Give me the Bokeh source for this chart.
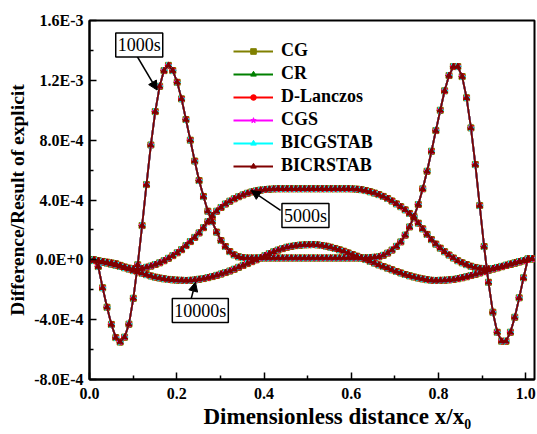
import numpy as np
from bokeh.plotting import figure
from bokeh.models import (ColumnDataSource, Legend, LegendItem, Label, Arrow, NormalHead,
                          FixedTicker, CustomJSTickFormatter, Range1d, Title)
from bokeh.embed import file_html
from bokeh.resources import INLINE

# ---------------- data (difference / result of explicit, in units of 1E-3) ----------------
x_pos = [round(i * 1.015 / 101, 4) for i in range(102)]

t1000 = [0.0, 0.0, -0.045, -0.187, -0.317, -0.432, -0.52, -0.55, -0.517, -0.43,
         -0.257, -0.033, 0.229, 0.503, 0.768, 0.991, 1.16, 1.265, 1.30, 1.265,
         1.187, 1.076, 0.938, 0.80, 0.66, 0.53, 0.423, 0.325, 0.256, 0.185,
         0.129, 0.089, 0.055, 0.033, 0.02, 0.014, 0.012, 0.012, 0.012, 0.012,
         0.012, 0.012, 0.012, 0.012, 0.012, 0.012, 0.012, 0.012, 0.012, 0.012,
         0.012, 0.012, 0.012, 0.012, 0.012, 0.012, 0.012, 0.012, 0.012, 0.012,
         0.012, 0.012, 0.012, 0.013, 0.015, 0.017, 0.02, 0.03, 0.045, 0.065,
         0.09, 0.12, 0.165, 0.22, 0.29, 0.37, 0.475, 0.592, 0.726, 0.864,
         1.0, 1.13, 1.232, 1.292, 1.292, 1.225, 1.083, 0.882, 0.637, 0.363,
         0.089, -0.15, -0.35, -0.484, -0.544, -0.544, -0.484, -0.384, -0.254, -0.12,
         0.007, 0.007]

t5000 = [0.0, -0.002, -0.006, -0.011, -0.016, -0.021, -0.027, -0.037, -0.048, -0.056,
         -0.06, -0.061, -0.058, -0.05, -0.042, -0.031, -0.02, -0.006, 0.01, 0.028,
         0.047, 0.068, 0.095, 0.122, 0.15, 0.18, 0.215, 0.255, 0.295, 0.325,
         0.35, 0.373, 0.392, 0.408, 0.422, 0.434, 0.445, 0.454, 0.461, 0.466,
         0.47, 0.472, 0.474, 0.475, 0.475, 0.475, 0.475, 0.475, 0.475, 0.475,
         0.475, 0.475, 0.475, 0.475, 0.475, 0.475, 0.475, 0.475, 0.475, 0.475,
         0.474, 0.472, 0.469, 0.463, 0.455, 0.446, 0.436, 0.424, 0.41, 0.393,
         0.374, 0.355, 0.334, 0.31, 0.28, 0.245, 0.207, 0.17, 0.135, 0.105,
         0.078, 0.054, 0.032, 0.012, -0.006, -0.02, -0.032, -0.043, -0.051, -0.057,
         -0.06, -0.061, -0.058, -0.051, -0.044, -0.036, -0.029, -0.021, -0.013, -0.006,
         0.002, 0.007]

t10000 = [0.0, -0.005, -0.01, -0.016, -0.022, -0.029, -0.036, -0.044, -0.053, -0.062,
          -0.072, -0.08, -0.09, -0.099, -0.108, -0.116, -0.122, -0.127, -0.131, -0.134,
          -0.136, -0.137, -0.138, -0.137, -0.134, -0.13, -0.125, -0.119, -0.112, -0.104,
          -0.095, -0.085, -0.075, -0.063, -0.05, -0.038, -0.025, -0.012, 0.0, 0.014,
          0.028, 0.041, 0.054, 0.065, 0.075, 0.084, 0.09, 0.095, 0.098, 0.1,
          0.101, 0.102, 0.1, 0.096, 0.091, 0.084, 0.076, 0.067, 0.057, 0.046,
          0.035, 0.024, 0.013, 0.002, -0.01, -0.022, -0.034, -0.045, -0.056, -0.067,
          -0.078, -0.088, -0.098, -0.107, -0.115, -0.122, -0.128, -0.133, -0.137, -0.138,
          -0.137, -0.136, -0.134, -0.131, -0.126, -0.12, -0.113, -0.105, -0.097, -0.088,
          -0.079, -0.07, -0.062, -0.054, -0.046, -0.038, -0.03, -0.022, -0.014, -0.006,
          0.002, 0.007]

methods = ["CG", "CR", "D-Lanczos", "CGS", "BICGSTAB", "BICRSTAB"]
colors = ["#808000", "#008000", "#ff0000", "#ff00ff", "#00ffff", "#800000"]
markers = ["square", "triangle", "circle", "star", "triangle", "triangle"]
angles = [0.0, np.pi / 2, 0.0, 0.0, -np.pi / 2, 0.0]

x_ticks = [0.0, 0.2, 0.4, 0.6, 0.8, 1.0]
x_minor = [0.1, 0.3, 0.5, 0.7, 0.9]
y_ticks = [-8e-4, -4e-4, 0.0, 4e-4, 8e-4, 1.2e-3, 1.6e-3]
y_minor = [-6e-4, -2e-4, 2e-4, 6e-4, 1.0e-3, 1.4e-3]

annotations = [("1000s", 0.114, 1.436e-3, 0.108, 1.366e-3, 0.155, 1.135e-3),
               ("5000s", 0.495, 0.296e-3, 0.438, 0.330e-3, 0.371, 0.463e-3),
               ("10000s", 0.254, -0.339e-3, 0.232, -0.272e-3, 0.243, -0.150e-3)]

x_title = "Dimensionless distance x/x\u2080"
y_title = "Difference/Result of explicit"

SERIF = "Liberation Serif"

p = figure(width=537, height=434, x_range=Range1d(0, 1.02), y_range=Range1d(-8e-4, 1.6e-3),
           output_backend="svg", toolbar_location=None,
           min_border_left=89, min_border_right=3, min_border_top=20, min_border_bottom=55)
p.background_fill_color = "white"
p.border_fill_color = "white"
p.outline_line_color = "black"
p.outline_line_width = 2
p.xgrid.visible = False
p.ygrid.visible = False

scale = 1e-3
curve_sets = [t1000, t5000, t10000]
items = []
for m, c, mk, ang in zip(methods, colors, markers, angles):
    rends = []
    for vals in curve_sets:
        src = ColumnDataSource(dict(x=x_pos, y=[v * scale for v in vals]))
        lr = p.line("x", "y", source=src, line_color=c, line_width=1.8)
        sr = p.scatter("x", "y", source=src, marker=mk, angle=ang, size=6,
                       fill_color=c, line_color=c)
        rends.extend([lr, sr])
    items.append(LegendItem(label=m, renderers=rends[:2]))

legend = Legend(items=items, location=(144, 202), padding=0, margin=0, spacing=0,
                glyph_width=40, glyph_height=14, label_height=23, label_standoff=8,
                label_text_font=SERIF, label_text_font_style="bold",
                label_text_font_size="18px", label_text_color="black",
                border_line_alpha=0, background_fill_alpha=0)
p.add_layout(legend)

yfmt = CustomJSTickFormatter(code="""
    if (Math.abs(tick) < 1e-12) { return "0.0E+0"; }
    const e = Math.floor(Math.log10(Math.abs(tick)) + 1e-9);
    const m = tick / Math.pow(10, e);
    return m.toFixed(1) + "E" + e;
""")
xfmt = CustomJSTickFormatter(code="return tick.toFixed(1);")

for ax in (p.xaxis[0], p.yaxis[0]):
    ax.axis_line_width = 2
    ax.major_tick_in = 7
    ax.major_tick_out = 0
    ax.minor_tick_in = 4
    ax.minor_tick_out = 0
    ax.major_tick_line_width = 1.5
    ax.minor_tick_line_width = 1.5
    ax.major_label_text_font = SERIF
    ax.major_label_text_font_style = "bold"
    ax.major_label_text_font_size = "16px"
    ax.major_label_text_color = "black"
    ax.axis_label_text_font = SERIF
    ax.axis_label_text_font_style = "bold"
    ax.axis_label_text_color = "black"

p.xaxis.ticker = FixedTicker(ticks=x_ticks, minor_ticks=x_minor)
p.yaxis.ticker = FixedTicker(ticks=y_ticks, minor_ticks=y_minor)
p.xaxis.formatter = xfmt
p.yaxis.formatter = yfmt
p.xaxis.major_label_standoff = 8
p.yaxis.major_label_standoff = 6
p.yaxis.axis_label = y_title
p.yaxis.axis_label_text_font_size = "19.5px"
p.yaxis.axis_label_standoff = 3

# x-axis title (sits right of centre in the reference)
p.add_layout(Title(text=x_title, align="left", offset=114, standoff=1,
                   text_font=SERIF, text_font_style="bold", text_font_size="23px",
                   text_color="black"), "below")

for text, lx, ly, xs, ys, xe, ye in annotations:
    p.add_layout(Arrow(end=NormalHead(size=9, fill_color="black", line_color="black"),
                       x_start=xs, y_start=ys, x_end=xe, y_end=ye,
                       line_color="black", line_width=1.5))
    p.add_layout(Label(x=lx, y=ly, text=text, text_align="center", text_baseline="middle",
                       text_font=SERIF, text_font_size="18px", text_color="black",
                       border_line_color="black", border_line_width=1.5,
                       background_fill_color="white", padding=2))

open("out.html", "w").write(file_html(p, INLINE))
